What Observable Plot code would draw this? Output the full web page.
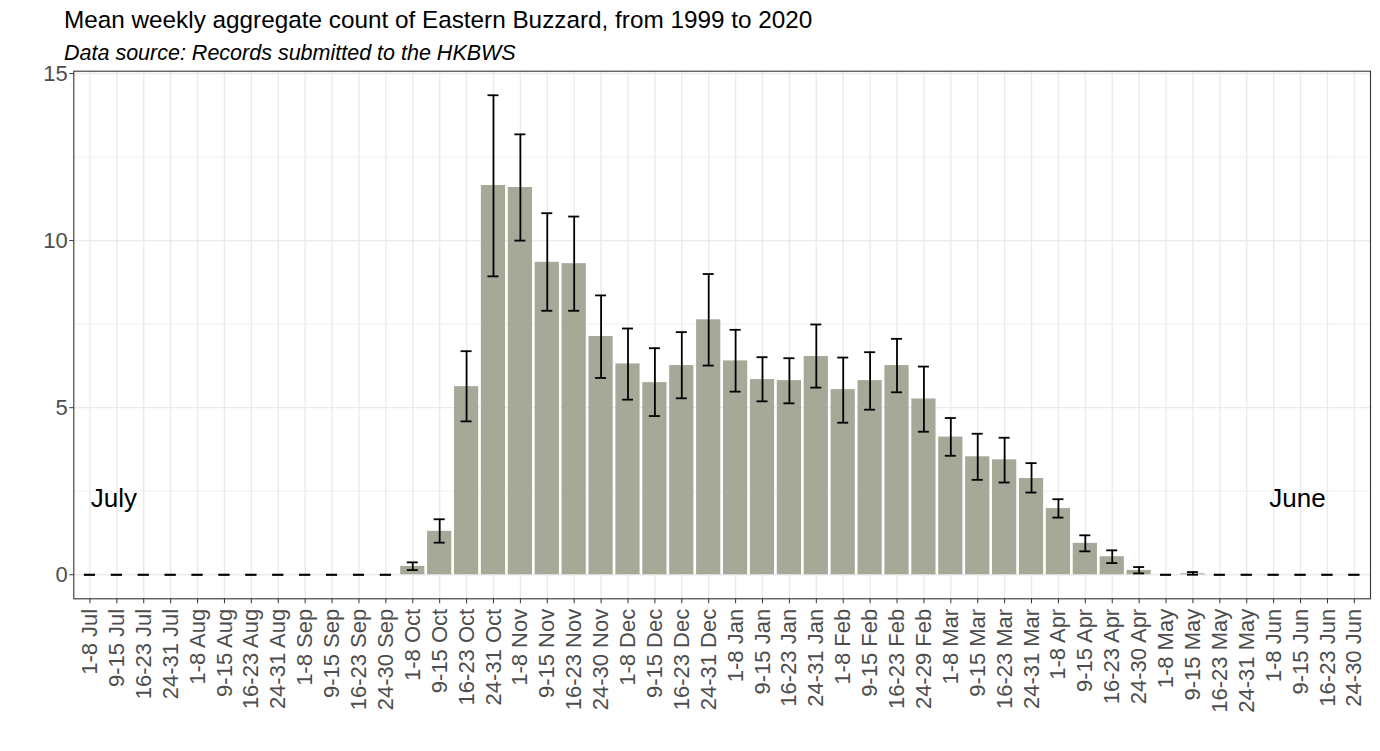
<!DOCTYPE html>
<html>
<head>
<meta charset="utf-8">
<script src="https://cdn.jsdelivr.net/npm/d3@7"></script>
<script src="https://cdn.jsdelivr.net/npm/@observablehq/plot@0.6"></script>
<style>
  html, body { margin: 0; padding: 0; background: white; overflow: hidden; }
  body { width: 1380px; height: 751px; position: relative; font-family: "Liberation Sans", Arial, sans-serif; }
  #title { position: absolute; left: 64px; top: 8px; font-size: 24.3px; line-height: 24px; color: black; white-space: nowrap; }
  #subtitle { position: absolute; left: 64px; top: 42.5px; font-size: 21.5px; line-height: 21.5px; font-style: italic; color: black; white-space: nowrap; }
  #chart { position: absolute; left: 0; top: 62px; }
</style>
</head>
<body>
<div id="title">Mean weekly aggregate count of Eastern Buzzard, from 1999 to 2020</div>
<div id="subtitle">Data source: Records submitted to the HKBWS</div>
<div id="chart"></div>
<script>
const weeks = [
  "1-8 Jul","9-15 Jul","16-23 Jul","24-31 Jul",
  "1-8 Aug","9-15 Aug","16-23 Aug","24-31 Aug",
  "1-8 Sep","9-15 Sep","16-23 Sep","24-30 Sep",
  "1-8 Oct","9-15 Oct","16-23 Oct","24-31 Oct",
  "1-8 Nov","9-15 Nov","16-23 Nov","24-30 Nov",
  "1-8 Dec","9-15 Dec","16-23 Dec","24-31 Dec",
  "1-8 Jan","9-15 Jan","16-23 Jan","24-31 Jan",
  "1-8 Feb","9-15 Feb","16-23 Feb","24-29 Feb",
  "1-8 Mar","9-15 Mar","16-23 Mar","24-31 Mar",
  "1-8 Apr","9-15 Apr","16-23 Apr","24-30 Apr",
  "1-8 May","9-15 May","16-23 May","24-31 May",
  "1-8 Jun","9-15 Jun","16-23 Jun","24-30 Jun"
];
const means = [
  0,0,0,0, 0,0,0,0, 0,0,0,0,
  0.25,1.30,5.63,11.65,
  11.59,9.35,9.31,7.13,
  6.31,5.75,6.26,7.63,
  6.40,5.84,5.81,6.53,
  5.54,5.81,6.26,5.26,
  4.12,3.53,3.44,2.88,
  1.98,0.94,0.54,0.13,
  0,0.03,0,0, 0,0,0,0
];
const lower = [
  0,0,0,0, 0,0,0,0, 0,0,0,0,
  0.14,0.96,4.59,8.93,
  10.00,7.90,7.90,5.89,
  5.24,4.75,5.28,6.26,
  5.48,5.19,5.13,5.60,
  4.55,4.94,5.46,4.28,
  3.56,2.84,2.76,2.46,
  1.71,0.70,0.35,0.04,
  0,0.00,0,0, 0,0,0,0
];
const upper = [
  0,0,0,0, 0,0,0,0, 0,0,0,0,
  0.37,1.66,6.69,14.35,
  13.18,10.82,10.72,8.36,
  7.37,6.78,7.26,9.00,
  7.33,6.51,6.48,7.49,
  6.50,6.66,7.06,6.23,
  4.69,4.22,4.10,3.34,
  2.26,1.18,0.73,0.23,
  0,0.08,0,0, 0,0,0,0
];
const yTicks = [0, 5, 10, 15];
const yMinor = [2.5, 7.5, 12.5];
const annotations = [
  {week: "9-15 Jul", y: 2.28, label: "July"},
  {week: "9-15 Jun", y: 2.28, label: "June"}
];

const data = weeks.map((w, i) => ({week: w, mean: means[i], lo: lower[i], hi: upper[i]}));

const capInset = 6.6;
const chart = Plot.plot({
  width: 1380,
  height: 689,
  marginTop: 8.7,
  marginBottom: 152.7,
  marginLeft: 73.3,
  marginRight: 10,
  style: {fontFamily: "'Liberation Sans', Arial, sans-serif", fontSize: "22px", color: "#4d4d4d", background: "white", overflow: "visible"},
  x: {domain: weeks, paddingInner: 0.1, paddingOuter: 0.15, label: null, axis: null},
  y: {domain: [-0.72, 15.07], label: null, axis: null},
  marks: [
    Plot.ruleY(yMinor, {stroke: "#ebebeb", strokeOpacity: 1, strokeWidth: 0.8}),
    Plot.gridY(yTicks, {stroke: "#ebebeb", strokeOpacity: 1, strokeWidth: 1.4}),
    Plot.gridX({stroke: "#ebebeb", strokeOpacity: 1, strokeWidth: 1.4}),
    Plot.barY(data, {x: "week", y: "mean", fill: "#a6a898"}),
    Plot.ruleX(data, {x: "week", y1: "lo", y2: "hi", stroke: "black", strokeWidth: 1.8}),
    Plot.tickY(data, {x: "week", y: "lo", insetLeft: capInset, insetRight: capInset, stroke: "black", strokeWidth: 1.8}),
    Plot.tickY(data, {x: "week", y: "hi", insetLeft: capInset, insetRight: capInset, stroke: "black", strokeWidth: 1.8}),
    Plot.text(annotations, {x: "week", y: "y", text: "label", fontSize: 26, fill: "black", dx: -3}),
    Plot.frame({stroke: "#333333", strokeWidth: 1.1}),
    Plot.axisY(yTicks, {tickSize: 4, tickPadding: 2, fontSize: 22, stroke: "#333333", label: null}),
    Plot.axisX({tickRotate: -90, tickSize: 5, tickPadding: 5, fontSize: 22, stroke: "#333333", label: null})
  ]
});
document.getElementById("chart").appendChild(chart);
</script>
</body>
</html>
